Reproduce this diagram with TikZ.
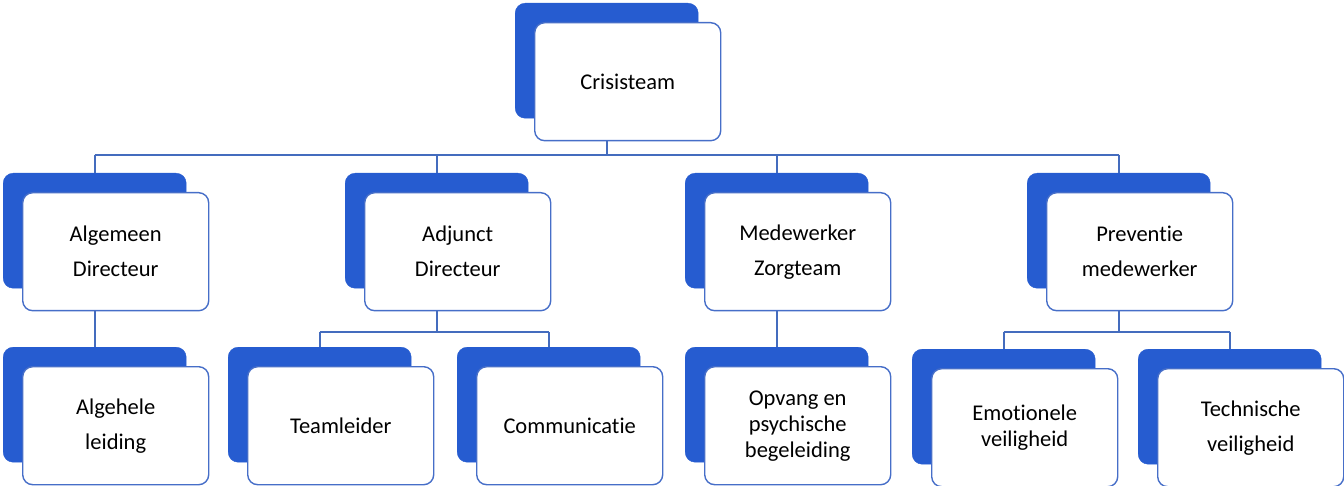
\documentclass[tikz,border=0pt]{standalone}
\usepackage{fontspec}
\setmainfont{Carlito}[Ligatures=NoCommon]
\usepackage{tikz}
\usetikzlibrary{positioning}

\definecolor{kaartblauw}{RGB}{38,92,208}
\definecolor{randblauw}{RGB}{70,110,200}
\definecolor{lijnblauw}{RGB}{68,108,190}

% kaart: naam, x, y (linksboven van de blauwe achterkant), tekst
\newcommand{\kaart}[5][]{%
\node[achter] (#2-b) at (#3,#4) {};
\node[voor,#1,below right=19pt and 19pt of #2-b.north west] (#2) {#5};
}

\begin{document}
\begin{tikzpicture}[x=1pt,y=-1pt,
  achter/.style={anchor=north west,fill=kaartblauw,draw=kaartblauw,rounded corners=10pt,
    minimum width=183pt,minimum height=115pt,inner sep=0pt},
  voor/.style={fill=white,draw=randblauw,line width=1.4pt,rounded corners=10pt,
    minimum width=186pt,minimum height=118pt,inner sep=0pt,align=center,
    font=\fontsize{22.5}{35}\selectfont},
  krap/.style={font=\fontsize{22.5}{26}\selectfont},
  lijn/.style={draw=lijnblauw,line width=1.7pt}]
\useasboundingbox (0,0) rectangle (1344,486);

% top
\kaart{crisis}{515}{3}{Crisisteam}
% tweede laag
\kaart{algemeen}{3}{173}{Algemeen\\Directeur}
\kaart{adjunct}{345}{173}{Adjunct\\Directeur}
\kaart{zorg}{685}{173}{Medewerker\\Zorgteam}
\kaart{preventie}{1027}{173}{Preventie\\medewerker}
% derde laag
\kaart{algehele}{3}{347}{Algehele\\leiding}
\kaart{teamleider}{228}{347}{Teamleider}
\kaart{communicatie}{457}{347}{Communicatie}
\kaart[krap]{opvang}{685}{347}{Opvang en\\psychische\\begeleiding}
\kaart[krap]{emotioneel}{912}{349}{Emotionele\\veiligheid}
\kaart{technisch}{1138}{349}{Technische\\veiligheid}

% verbindingen
\coordinate (balk1) at (0,155);
\coordinate (balk2) at (0,332);
\draw[lijn] (crisis-b.south |- crisis.south) -- (crisis-b.south |- balk1);
\draw[lijn] (algemeen-b.north |- balk1) -- (preventie-b.north |- balk1);
\foreach \n in {algemeen,adjunct,zorg,preventie}
  \draw[lijn] (\n-b.north |- balk1) -- (\n-b.north);

\draw[lijn] (algemeen-b.south |- algemeen.south) -- (algehele-b.north);
\draw[lijn] (zorg-b.south |- zorg.south) -- (opvang-b.north);

\draw[lijn] (adjunct-b.south |- adjunct.south) -- (adjunct-b.south |- balk2);
\draw[lijn] (teamleider-b.north |- balk2) -- (communicatie-b.north |- balk2);
\draw[lijn] (preventie-b.south |- preventie.south) -- (preventie-b.south |- balk2);
\draw[lijn] (emotioneel-b.north |- balk2) -- (technisch-b.north |- balk2);
\foreach \n in {teamleider,communicatie,emotioneel,technisch}
  \draw[lijn] (\n-b.north |- balk2) -- (\n-b.north);
\end{tikzpicture}
\end{document}
